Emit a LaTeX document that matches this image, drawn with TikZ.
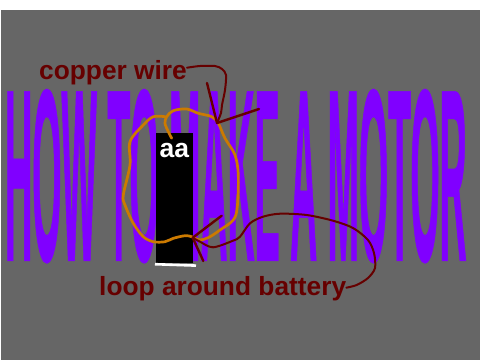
\documentclass[tikz,border=0pt]{standalone}
\usepackage{fontspec}
\setmainfont{Liberation Sans}
\newfontfamily\headlinefont{Liberation Sans}[FakeStretch=0.175,FakeBold=0.22]
\definecolor{slate}{HTML}{666666}
\definecolor{motorviolet}{HTML}{8000FF}
\definecolor{wirered}{HTML}{660000}
\definecolor{copper}{HTML}{CC7A00}
\tikzset{
  label text/.style={inner sep=0pt,anchor=base west,text=wirered,font=\bfseries\fontsize{26.3}{30}\selectfont},
  marker/.style={draw=wirered,line width=2.4pt,line cap=round,line join=round},
  lead/.style={draw=wirered,line width=2pt,line cap=round,line join=round},
  coil/.style={draw=copper,line width=2.7pt,line cap=round,line join=round}
}
\begin{document}
\begin{tikzpicture}[x=1pt,y=-1pt]
\useasboundingbox (0,0) rectangle (480,360);
\fill[white] (0,0) rectangle (480,360);
\fill[slate] (1,10) rectangle (480,360);

% stretched headline
\node[inner sep=0pt,anchor=south west,text=motorviolet] (title) at (5,263.5)
  {\resizebox{461.5pt}{172pt}{\headlinefont\bfseries\fontsize{240}{260}\selectfont HOW TO MAKE A MOTOR}};

% battery
\fill[black] (155.7,133.3) rectangle (192.7,263);
\node[inner sep=0pt,anchor=base,text=white,font=\bfseries\fontsize{26.5}{30}\selectfont] (cell) at (174.3,157.5) {aa};
\draw[white,line width=2.6pt] (155,264.2) -- (196,265.6);

% wire around the battery
\draw[coil] plot[smooth,tension=0.55] coordinates {
  (171.7,138.3) (168.3,131.7) (165,123.3) (166.7,116.7) (173.3,110.7)
  (186.7,109) (198.3,113.3) (211.7,116.7) (218.3,123.3) (225,138.3)
  (235,155) (238.3,175) (237.3,206.7) (233.3,220) (220,230) (210,236.7)
  (200,240) (191.7,236.7) (185,235.7) (173.3,238.3) (165,241.7)
  (153.3,241.7) (143.3,236.7) (133.3,223.3) (125,205) (123.3,195)
  (130,165) (130,141.7) (143.3,125) (153.3,116.7) (165,116.7)};

% captions
\node[label text] (copperlabel) at (39,79.5) {copper wire};
\node[label text] (looplabel) at (99,295.5) {loop around battery};

% upper pointer
\coordinate (uppertip) at (217,123);
\coordinate (upperleft) at (207,83);
\coordinate (upperright) at (259,109);
\draw[marker] (upperleft) -- (uppertip) -- (upperright);
\draw[lead] plot[smooth,tension=0.5] coordinates {
  ([yshift=5pt]copperlabel.east) (200,66) (215,66) (222,69) (226,75) (225,90)
  (222,105) (221,113) (uppertip)};

% lower pointer
\coordinate (lowertip) at (192.7,237.7);
\coordinate (lowerup) at (221.7,215.7);
\coordinate (lowerdown) at (203.3,261);
\draw[marker] (lowerup) -- (lowertip) -- (lowerdown);
\draw[lead] plot[smooth,tension=0.5] coordinates {
  (lowertip) (200,241.7) (213,247.3) (233,240.7) (240,236.7) (250,223.3)
  (263,216.7) (280,213.7) (306.7,215) (333,220.7) (353,228) (368,240)
  (374,253) (375,268) (368,278) (356.7,285) ([yshift=1pt]looplabel.east)};
\end{tikzpicture}
\end{document}
